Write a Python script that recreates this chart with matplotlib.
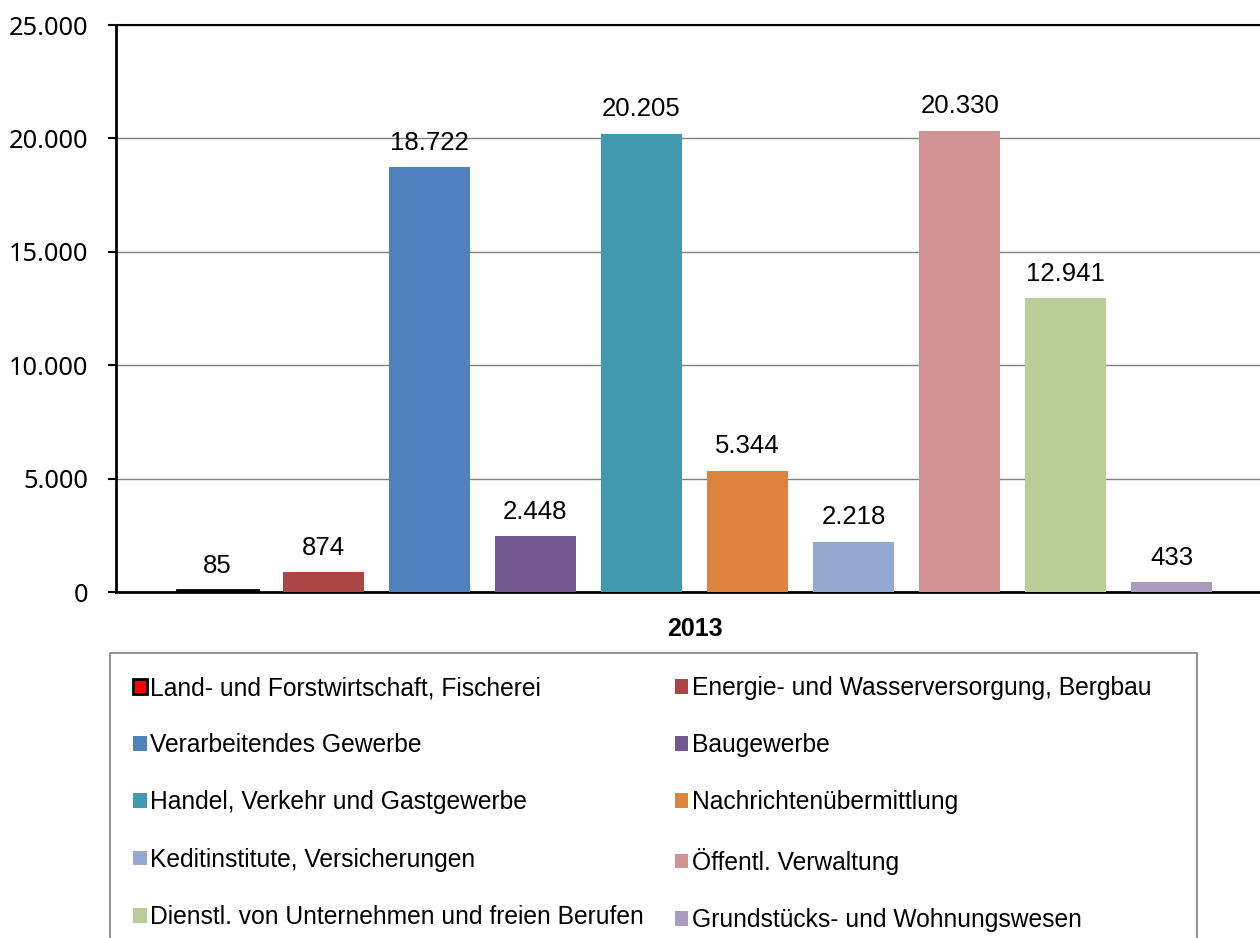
import matplotlib
matplotlib.use("Agg")
import matplotlib.pyplot as plt
from matplotlib.patches import Patch, Rectangle
from matplotlib.ticker import FuncFormatter

plt.rcParams['font.family'] = ['Liberation Sans', 'DejaVu Sans']

# ==================== Daten ====================
kategorien = [
    "Land- und Forstwirtschaft, Fischerei",
    "Energie- und Wasserversorgung, Bergbau",
    "Verarbeitendes Gewerbe",
    "Baugewerbe",
    "Handel, Verkehr und Gastgewerbe",
    "Nachrichtenübermittlung",
    "Keditinstitute, Versicherungen",
    "Öffentl. Verwaltung",
    "Dienstl. von Unternehmen und freien Berufen",
    "Grundstücks- und Wohnungswesen",
]
werte = [85, 874, 18722, 2448, 20205, 5344, 2218, 20330, 12941, 433]
farben = ["#FF0000", "#AA4643", "#4F81BD", "#71588F", "#4198AF",
          "#DB843D", "#93A9CF", "#D19392", "#B9CD96", "#A99BBD"]
jahr = "2013"
y_ticks = [0, 5000, 10000, 15000, 20000, 25000]


def tausender(x, pos):
    return f'{int(x):,}'.replace(',', '.')


fig = plt.figure(figsize=(12.6, 9.38), dpi=100)
ax = fig.add_axes([116 / 1260, 346 / 938, 1157 / 1260, 567 / 938])

for i, (w, f) in enumerate(zip(werte, farben)):
    ec = 'black' if i == 0 else 'none'
    lw = 2.0 if i == 0 else 0
    ax.bar(i, w, width=0.764, color=f, edgecolor=ec, linewidth=lw, zorder=3)
    ax.annotate(tausender(w, None), (i, w), textcoords="offset points",
                xytext=(0, 9), ha='center', va='bottom', fontsize=18.5)

ax.set_xlim(-0.953, 9.953)
ax.set_ylim(0, 25000)
ax.set_yticks(y_ticks)
ax.yaxis.set_major_formatter(FuncFormatter(tausender))
for lab in ax.get_yticklabels():
    lab.set_family(['Noto Sans', 'DejaVu Sans'])
    lab.set_fontsize(18.3)
ax.tick_params(axis='y', direction='out', length=6, width=1.5, pad=14, colors='black')
ax.yaxis.grid(True, color='#808080', linewidth=1, zorder=0)

ax.set_xticks([4.5])
ax.set_xticklabels([jahr], fontsize=18, fontweight='bold')
ax.tick_params(axis='x', length=0, pad=18)

ax.spines['left'].set_linewidth(2)
ax.spines['bottom'].set_linewidth(2)
ax.spines['top'].set_linewidth(1.5)
ax.spines['right'].set_visible(False)

# Legende zeilenweise: Spalte 1 = gerade, Spalte 2 = ungerade
handles = [Patch(facecolor=f, edgecolor=('black' if i == 0 else f), linewidth=(2 if i == 0 else 0))
           for i, f in enumerate(farben)]
order = [0, 2, 4, 6, 8, 1, 3, 5, 7, 9]
leg = fig.legend([handles[i] for i in order], [kategorien[i] for i in order],
                 loc='upper left', bbox_to_anchor=(110 / 1260, 1 - 653 / 938),
                 ncol=2, fontsize=17.7, frameon=False,
                 handlelength=0.55, handleheight=0.55,
                 handletextpad=0.15, labelspacing=1.35, columnspacing=1.25,
                 borderpad=0.94, borderaxespad=0)

# Rahmen der Legende (unten abgeschnitten)
fig.patches.append(Rectangle((110 / 1260, -0.05), (1197 - 110) / 1260, (938 - 653) / 938 + 0.05,
                             transform=fig.transFigure, fill=False,
                             edgecolor='#808080', linewidth=1.2))

fig.savefig('out.png', dpi=100)
